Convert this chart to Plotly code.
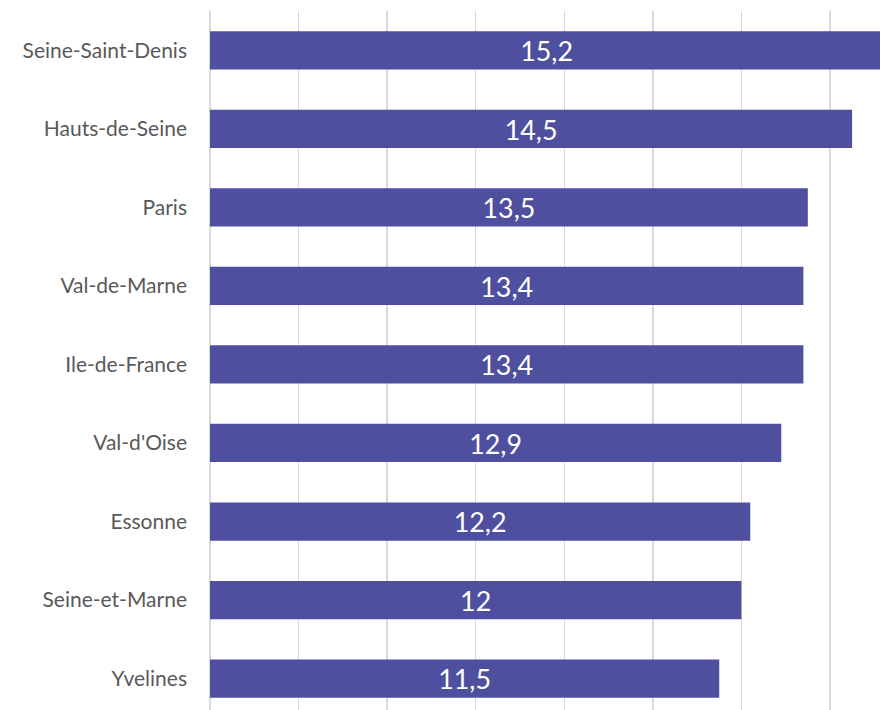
import plotly.graph_objects as go

categories = ["Seine-Saint-Denis", "Hauts-de-Seine", "Paris", "Val-de-Marne",
              "Ile-de-France", "Val-d'Oise", "Essonne", "Seine-et-Marne", "Yvelines"]
values = [15.2, 14.5, 13.5, 13.4, 13.4, 12.9, 12.2, 12.0, 11.5]

labels = [f"{v:g}".replace(".", ",") for v in values]
ypos = list(range(len(categories)))

fig = go.Figure()
fig.add_trace(go.Bar(
    x=values, y=ypos, orientation="h",
    marker=dict(color="#4F4F9F", line=dict(width=0)),
    width=0.487,
    text=labels, textposition="inside", insidetextanchor="middle",
    textfont=dict(color="white", size=30, family="Lato"),
    textangle=0,
    hoverinfo="skip",
))

fig.update_layout(
    width=880, height=710,
    margin=dict(l=210, r=0, t=11, b=0),
    plot_bgcolor="white", paper_bgcolor="white",
    showlegend=False,
    uniformtext=dict(minsize=8, mode="show"),
)
fig.update_xaxes(
    range=[0, 15.13], dtick=2, showticklabels=False,
    showgrid=True, gridcolor="#D9D9D9", gridwidth=1.5,
    zeroline=True, zerolinecolor="#D9D9D9", zerolinewidth=1.5,
    showline=False, fixedrange=True,
)
fig.update_yaxes(
    tickmode="array", tickvals=ypos, ticktext=categories,
    range=[8.4, -0.5], showgrid=False, zeroline=False, showline=False,
    tickfont=dict(family="Lato", size=21, color="#595959"),
    ticklabelstandoff=22, fixedrange=True,
)

fig.write_html(
    "out.html",
    config={"displayModeBar": False, "staticPlot": True},
    post_script="document.body.style.margin='0';document.body.style.overflow='hidden';",
)
